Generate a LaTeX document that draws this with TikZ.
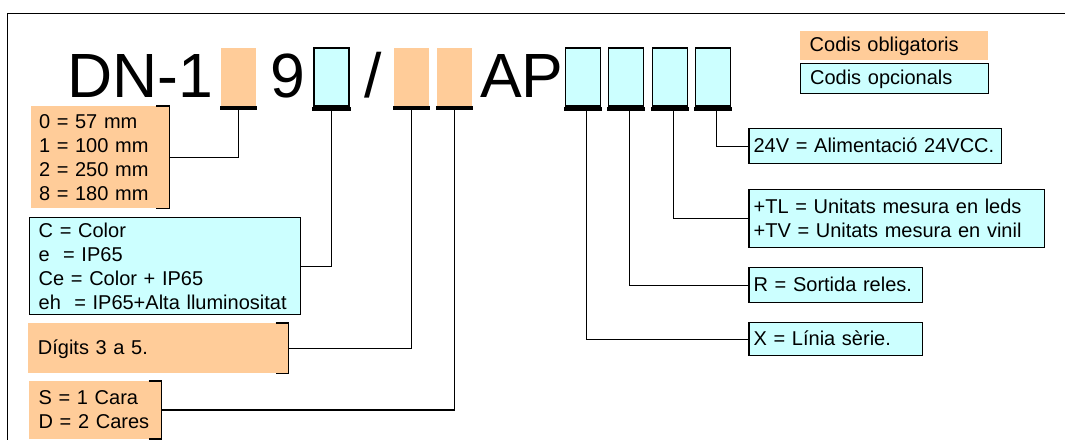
\documentclass[tikz,border=0pt]{standalone}
\usepackage{fontspec}
\setmainfont{Liberation Sans}
\definecolor{oblig}{HTML}{FFCC99}
\definecolor{opcio}{HTML}{CCFFFF}
\newcommand{\fila}[1]{\mbox{#1}}
\tikzset{
   codi/.style={minimum width=35pt, minimum height=58pt, inner sep=0pt},
   obl/.style={fill=oblig},
   opc/.style={fill=opcio, draw=black, line width=1.2pt},
   llegenda/.style={anchor=north west, align=left, inner ysep=0pt,
      font=\fontsize{20}{24}\selectfont},
   una/.style={text height=15pt, text depth=3pt},
   fil/.style={line width=1.2pt},
   titol/.style={inner sep=0pt, font=\fontsize{62.5}{62.5}\selectfont}
}

\begin{document}
\begin{tikzpicture}[x=1pt, y=-1pt]
   \useasboundingbox (0,0) rectangle (1065,439);
   \draw[fil] (7.2,441) -- (7.2,13.3) -- (1067,13.3);

   % codi
   \node[titol, anchor=base west] (dn) at (67.4,97) {DN-1};
   \node[titol, anchor=base] (nou) at (287.5,97) {9};
   \node[titol, anchor=base] (barra) at (373,97) {/};
   \node[titol, anchor=base west] (ap) at (480,97) {AP};

   \node[codi, obl] (c1) at (238.3,77) {};
   \node[codi, opc] (c2) at (331.5,77) {};
   \node[codi, obl] (c3) at (411.2,77) {};
   \node[codi, obl] (c4) at (454.5,77) {};
   \node[codi, opc] (c5) at (583.2,77) {};
   \node[codi, opc] (c6) at (626.2,77) {};
   \node[codi, opc] (c7) at (669.7,77) {};
   \node[codi, opc] (c8) at (713.2,77) {};
   \foreach \i in {1,...,8}
      \fill ([xshift=-1pt]c\i.south west) rectangle ([xshift=1pt,yshift=-4pt]c\i.south east);

   % llegendes
   \node[llegenda, obl, text width=121.4pt, inner xsep=8.5pt, minimum height=102pt] (mida) at (30.3,106)
      {\fila{0 = 57 mm}\\\fila{1 = 100 mm}\\\fila{2 = 250 mm}\\\fila{8 = 180 mm}};
   \node[llegenda, opc, text width=252pt, inner xsep=9.5pt, minimum height=97pt] (tipus) at (28.6,217)
      {\fila{C = Color}\\\fila{e~~= IP65}\\\fila{Ce = Color + IP65}\\\fila{eh~~= IP65+Alta lluminositat}};
   \node[llegenda, obl, una, text width=241pt, inner xsep=9.5pt, minimum height=50pt] (digits) at (28.2,323)
      {\fila{Dígits 3 a 5.}};
   \node[llegenda, obl, text width=113.3pt, inner xsep=9.5pt, minimum height=57.5pt] (cares) at (28.9,381)
      {\fila{S = 1 Cara}\\\fila{D = 2 Cares}};
   \foreach \n in {mida,digits,cares}
      \draw[fil] ([xshift=-13pt]\n.north east) -- (\n.north east) -- (\n.south east) -- ([xshift=-13pt]\n.south east);

   \node[llegenda, opc, una, text width=243.6pt, inner xsep=4.6pt, minimum height=35pt] (alim) at (748.4,128)
      {\fila{24V = Alimentació 24VCC.}};
   \node[llegenda, opc, text width=286.6pt, inner xsep=4.6pt, minimum height=58pt] (unitats) at (748.4,189)
      {\fila{+TL = Unitats mesura en leds}\\\fila{+TV = Unitats mesura en vinil}};
   \node[llegenda, opc, una, text width=164.1pt, inner xsep=4.6pt, minimum height=35pt] (reles) at (748.4,267)
      {\fila{R = Sortida reles.}};
   \node[llegenda, opc, una, text width=164.1pt, inner xsep=4.6pt, minimum height=33pt] (serie) at (748.4,322)
      {\fila{X = Línia sèrie.}};

   \node[llegenda, obl, una, text width=168.7pt, inner xsep=9.3pt, minimum height=29pt] (kobl) at (800.2,31)
      {\fila{Codis obligatoris}};
   \node[llegenda, opc, una, text width=168.7pt, inner xsep=9.3pt, minimum height=30pt] (kopc) at (800.2,63)
      {\fila{Codis opcionals}};

   % connexions
   \draw[fil] (c1.south) |- (mida.east);
   \draw[fil] (c2.south) |- (tipus.east);
   \draw[fil] (c3.south) |- (digits.east);
   \draw[fil] (c4.south) |- (cares.east);
   \draw[fil] ([xshift=3.5pt]c5.south) |- (serie.west);
   \draw[fil] ([xshift=3.5pt]c6.south) |- (reles.west);
   \draw[fil] ([xshift=3.5pt]c7.south) |- (unitats.west);
   \draw[fil] ([xshift=3.5pt]c8.south) |- (alim.west);
\end{tikzpicture}
\end{document}
